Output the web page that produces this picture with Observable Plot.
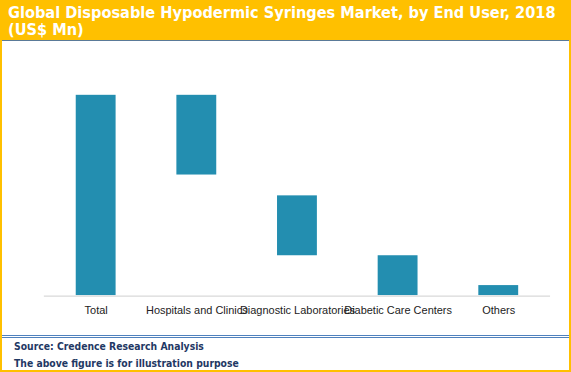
<!DOCTYPE html>
<html>
<head>
<meta charset="utf-8">
<script src="https://cdn.jsdelivr.net/npm/d3@7"></script>
<script src="https://cdn.jsdelivr.net/npm/@observablehq/plot@0.6"></script>
<style>
  html, body { margin: 0; padding: 0; background: #fff; }
  #frame { position: relative; width: 571px; height: 372px; box-sizing: border-box; border: 2px solid #FFC000; background: #fff; overflow: hidden; }
  #title { position: absolute; left: 0; top: 0; width: 571px; background: #FFC000; border-bottom: 1px solid #5A7A98; color: #fff; font-family: "DejaVu Sans Condensed", "DejaVu Sans", sans-serif; font-stretch: condensed; font-weight: bold; font-size: 16.2px; line-height: 17px; padding: 2px 0 0 6px; box-sizing: border-box; height: 39px; }
  #chart { position: absolute; left: -2px; top: 39px; }
  #rule { position: absolute; left: 0; top: 333px; width: 567px; height: 1px; border-top: 1px solid #4F81BD; border-bottom: 1px solid #4F81BD; }
  #foot { position: absolute; left: 12px; top: 336px; color: #1F3864; font-family: "DejaVu Sans Condensed", "DejaVu Sans", sans-serif; font-stretch: condensed; font-weight: bold; font-size: 10.3px; line-height: 17px; }
</style>
</head>
<body>
<div id="frame">
  <div id="title">Global Disposable Hypodermic Syringes Market, by End User, 2018<br>(US$ Mn)</div>
  <div id="chart"></div>
  <div id="rule"></div>
  <div id="foot">Source: Credence Research Analysis<br>The above figure is for illustration purpose</div>
</div>
<script>
const categories = ["Total", "Hospitals and Clinics", "Diagnostic Laboratories", "Diabetic Care Centers", "Others"];
const barStart = [0, 60.2, 19.9, 0, 0];
const barEnd = [100, 100, 49.8, 19.9, 5.0];

const data = categories.map((c, i) => ({cat: c, start: barStart[i], end: barEnd[i]}));

const chart = Plot.plot({
  width: 571,
  height: 294,
  marginLeft: 44,
  marginRight: 19,
  marginTop: 54,
  marginBottom: 39,
  style: {fontFamily: "'Liberation Sans', Arial, sans-serif", fontSize: "11px", color: "#222", background: "transparent"},
  x: {domain: categories, paddingInner: 0.6, paddingOuter: 0.3, label: null},
  y: {domain: [0, 100], axis: null},
  marks: [
    Plot.barY(data, {x: "cat", y1: "start", y2: "end", fill: "#238EB0"}),
    Plot.ruleY([0], {stroke: "#D9D9D9", strokeWidth: 1.3, dy: 0.6}),
    Plot.axisX({tickSize: 0, tickPadding: 11, label: null, fill: "#222"})
  ]
});
document.getElementById("chart").appendChild(chart);
</script>
</body>
</html>
